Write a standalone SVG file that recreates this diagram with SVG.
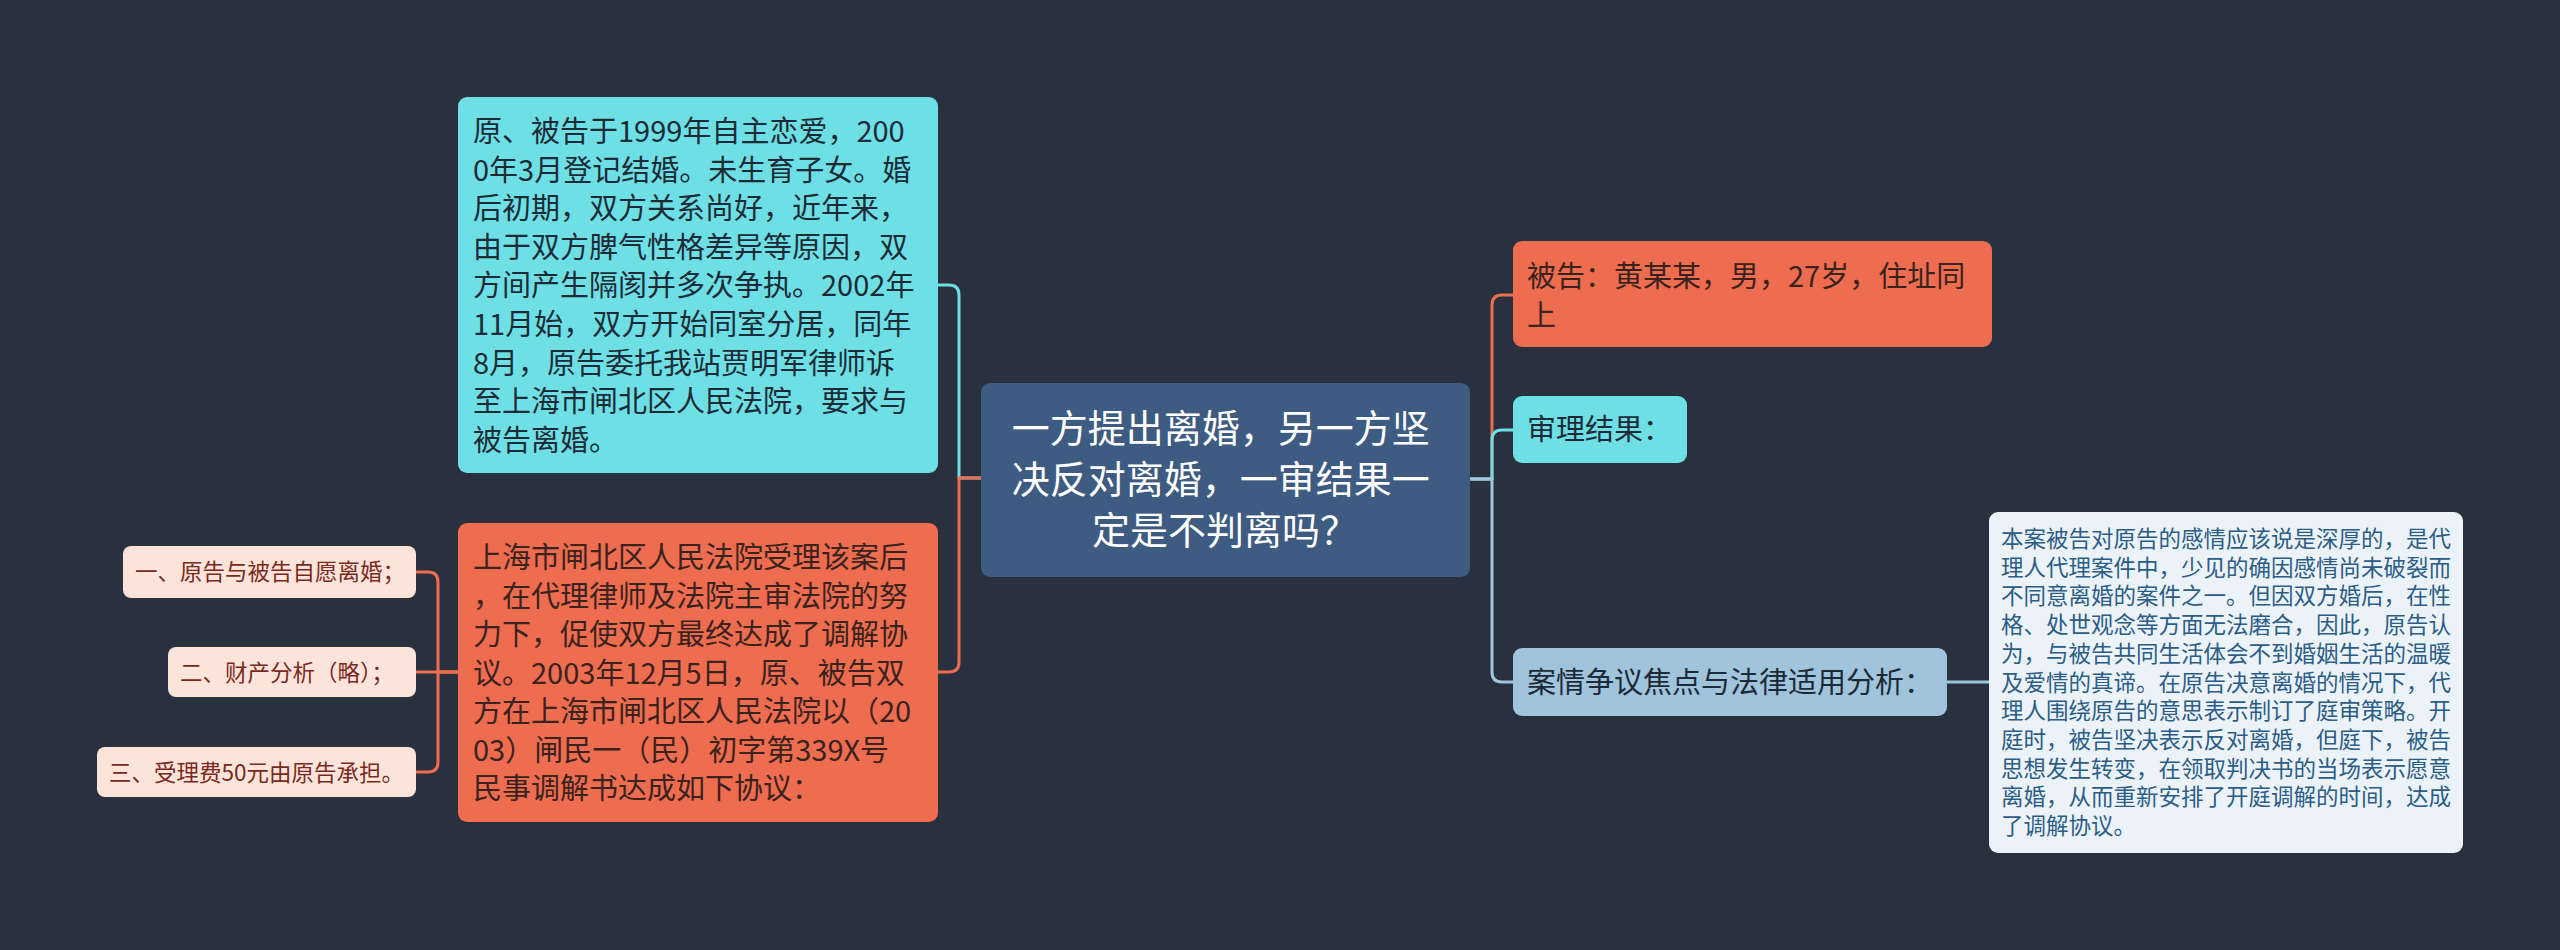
<svg xmlns="http://www.w3.org/2000/svg" width="2560" height="950" viewBox="0 0 2560 950">
<style>
.t{font-family:"Noto Sans CJK SC","Noto Sans",sans-serif;}
.f29{font-size:29px;}
.f22{font-size:22.5px;}
.c{fill:none;stroke-width:3;stroke-linecap:round;stroke-linejoin:round;}
.cy{stroke:#6ddfe5;}
.or{stroke:#ee6c4f;}
.lb{stroke:#a0c6de;}
</style>
<rect x="0" y="0" width="2560" height="950" fill="#29303e"/>
<g id="connectors">
<path class="c cy" d="M938,285 H949 Q959,285 959,295 V478 H981"/>
<path class="c or" d="M981,478 H959 V662 Q959,672 949,672 H938"/>
<path class="c or" d="M1470,479 H1492 V305 Q1492,295 1502,295 H1513"/>
<path class="c cy" d="M1470,479 H1492 V440 Q1492,430 1502,430 H1513"/>
<path class="c lb" d="M1470,479 H1492 V672 Q1492,682 1502,682 H1513"/>
<path class="c lb" d="M1947,682 H1989"/>
<path class="c or" d="M458,672 H438 V582 Q438,572 428,572 H416"/>
<path class="c or" d="M458,672 H416"/>
<path class="c or" d="M458,672 H438 V762 Q438,772 428,772 H416"/>
</g>
<g id="center">
<rect x="981" y="383" width="489" height="194" rx="9" fill="#3e5b81"/>
<text class="t" font-size="38" fill="#ffffff" text-anchor="middle">
<tspan x="1225" y="442">一方提出离婚，另一方坚</tspan>
<tspan x="1225" y="493">决反对离婚，一审结果一</tspan>
<tspan x="1225" y="544">定是不判离吗？</tspan>
</text>
</g>
<g id="facts">
<rect x="458" y="97" width="480" height="376" rx="9" fill="#6ddfe5"/>
<text class="t f29" fill="#1c2b35">
<tspan x="473" y="142">原、被告于1999年自主恋爱，200</tspan>
<tspan x="473" y="180.6">0年3月登记结婚。未生育子女。婚</tspan>
<tspan x="473" y="219.2">后初期，双方关系尚好，近年来，</tspan>
<tspan x="473" y="257.8">由于双方脾气性格差异等原因，双</tspan>
<tspan x="473" y="296.4">方间产生隔阂并多次争执。2002年</tspan>
<tspan x="473" y="335">11月始，双方开始同室分居，同年</tspan>
<tspan x="473" y="373.6">8月，原告委托我站贾明军律师诉</tspan>
<tspan x="473" y="412.2">至上海市闸北区人民法院，要求与</tspan>
<tspan x="473" y="450.8">被告离婚。</tspan>
</text>
</g>
<g id="mediation">
<rect x="458" y="523" width="480" height="299" rx="9" fill="#ee6c4f"/>
<text class="t f29" fill="#3a231d">
<tspan x="473" y="568">上海市闸北区人民法院受理该案后</tspan>
<tspan x="473" y="606.5">，在代理律师及法院主审法院的努</tspan>
<tspan x="473" y="645">力下，促使双方最终达成了调解协</tspan>
<tspan x="473" y="683.5">议。2003年12月5日，原、被告双</tspan>
<tspan x="473" y="722">方在上海市闸北区人民法院以（20</tspan>
<tspan x="473" y="760.5">03）闸民一（民）初字第339X号</tspan>
<tspan x="473" y="799">民事调解书达成如下协议：</tspan>
</text>
</g>
<g id="item1">
<rect x="123" y="546" width="293" height="52" rx="8" fill="#fde4db"/>
<text class="t f22" fill="#7a2a1c" x="135" y="580">一、原告与被告自愿离婚；</text>
</g>
<g id="item2">
<rect x="168" y="647" width="248" height="50" rx="8" fill="#fde4db"/>
<text class="t f22" fill="#7a2a1c" x="180" y="681">二、财产分析（略）；</text>
</g>
<g id="item3">
<rect x="97" y="747" width="319" height="50" rx="8" fill="#fde4db"/>
<text class="t f22" fill="#7a2a1c" x="109" y="781">三、受理费50元由原告承担。</text>
</g>
<g id="defendant">
<rect x="1513" y="241" width="479" height="106" rx="9" fill="#ee6c4f"/>
<text class="t f29" fill="#3a231d">
<tspan x="1527" y="287">被告：黄某某，男，27岁，住址同</tspan>
<tspan x="1527" y="325.5">上</tspan>
</text>
</g>
<g id="result">
<rect x="1513" y="396" width="174" height="67" rx="9" fill="#6ddfe5"/>
<text class="t f29" fill="#1c2b35" x="1527" y="440">审理结果：</text>
</g>
<g id="analysis">
<rect x="1513" y="648" width="434" height="68" rx="9" fill="#9fc4dc"/>
<text class="t f29" fill="#1d2a37" x="1527" y="693">案情争议焦点与法律适用分析：</text>
</g>
<g id="analysis-detail">
<rect x="1989" y="512" width="474" height="341" rx="9" fill="#ebf3f9"/>
<text class="t f22" fill="#2b5d86">
<tspan x="2001" y="547">本案被告对原告的感情应该说是深厚的，是代</tspan>
<tspan x="2001" y="575.7">理人代理案件中，少见的确因感情尚未破裂而</tspan>
<tspan x="2001" y="604.4">不同意离婚的案件之一。但因双方婚后，在性</tspan>
<tspan x="2001" y="633.1">格、处世观念等方面无法磨合，因此，原告认</tspan>
<tspan x="2001" y="661.8">为，与被告共同生活体会不到婚姻生活的温暖</tspan>
<tspan x="2001" y="690.5">及爱情的真谛。在原告决意离婚的情况下，代</tspan>
<tspan x="2001" y="719.2">理人围绕原告的意思表示制订了庭审策略。开</tspan>
<tspan x="2001" y="747.9">庭时，被告坚决表示反对离婚，但庭下，被告</tspan>
<tspan x="2001" y="776.6">思想发生转变，在领取判决书的当场表示愿意</tspan>
<tspan x="2001" y="805.3">离婚，从而重新安排了开庭调解的时间，达成</tspan>
<tspan x="2001" y="834">了调解协议。</tspan>
</text>
</g>
</svg>
